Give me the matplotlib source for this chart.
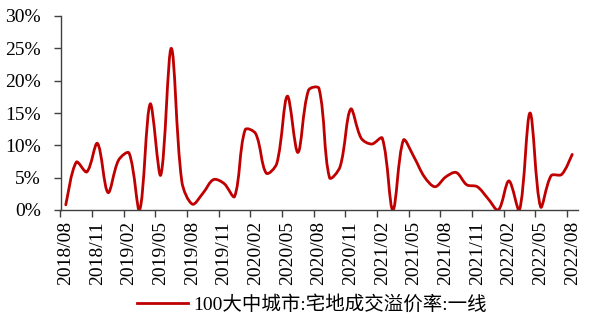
import matplotlib
matplotlib.use('Agg')
import matplotlib.pyplot as plt
from matplotlib.path import Path
from matplotlib.patches import PathPatch
from matplotlib.lines import Line2D
import numpy as np

months = []
for y in range(2018, 2023):
    for m in range(1, 13):
        if (y == 2018 and m < 8) or (y == 2022 and m > 8):
            continue
        months.append(f"{y}/{m:02d}")

values = [0.8, 7.4, 5.9, 10.3, 2.7, 7.7, 8.8, 0.0, 16.4, 5.4, 25.0, 4.4,
          0.9, 2.6, 4.7, 4.1, 2.1, 12.4, 11.8, 5.7, 7.2, 17.6, 8.9, 18.5,
          18.8, 5.0, 6.7, 15.6, 11.1, 10.2, 11.1, 0.0, 10.8, 8.2, 5.1, 3.6,
          5.1, 5.8, 3.9, 3.6, 1.8, 0.0, 4.5, 0.0, 15.0, 0.5, 5.3, 5.5, 8.6]

series_name = "100大中城市:宅地成交溢价率:一线"
yticks = [0, 5, 10, 15, 20, 25, 30]

serif = ['Liberation Serif', 'Noto Sans CJK SC', 'DejaVu Serif']
plt.rcParams['font.family'] = serif
plt.rcParams['font.size'] = 14

W, H = 591, 317
fig = plt.figure(figsize=(W / 100, H / 100), dpi=100)
ax = fig.add_axes([60.5 / W, (H - 210) / H, (577.5 - 60.5) / W, (210 - 16) / H])

n = len(values)
ax.set_xlim(-0.5, n - 0.5)
ax.set_ylim(0, 30)

# Excel-style smoothing: distance-weighted Bezier control points in screen space
color = '#C00000'
x = np.arange(n, dtype=float)
data = np.column_stack([x, np.array(values, dtype=float)])
scr = ax.transData.transform(data)
d = np.hypot(*np.diff(scr, axis=0).T)
t = 1.0 / 3.0
verts = [scr[0]]
codes = [Path.MOVETO]
for i in range(n - 1):
    p0 = scr[max(i - 1, 0)]
    p1 = scr[i]
    p2 = scr[i + 1]
    p3 = scr[min(i + 2, n - 1)]
    dprev = d[i - 1] if i > 0 else d[i]
    dnext = d[i + 1] if i + 1 < n - 1 else d[i]
    w1 = d[i] / (dprev + d[i]) if (dprev + d[i]) > 0 else 0.5
    w2 = d[i] / (d[i] + dnext) if (d[i] + dnext) > 0 else 0.5
    c1 = p1 + (p2 - p0) * t * w1
    c2 = p2 - (p3 - p1) * t * w2
    verts += [c1, c2, p2]
    codes += [Path.CURVE4] * 3
verts = ax.transData.inverted().transform(np.array(verts))
ax.add_patch(PathPatch(Path(verts, codes), facecolor='none', edgecolor=color,
                       lw=2.0, capstyle='round', joinstyle='round'))

ax.set_yticks(yticks)
ax.set_yticklabels([f"{v}%" for v in yticks])

bounds = np.arange(-0.5, n - 0.5, 3)
ax.set_xticks(bounds)
ax.set_xticklabels([''] * len(bounds))
centers = np.arange(0, n, 3)
ax.set_xticks(centers, minor=True)
ax.set_xticklabels([months[i] for i in centers], minor=True, rotation=90)
ax.tick_params(axis='x', which='minor', length=0, pad=8)
ax.tick_params(axis='x', which='major', length=5, width=1, color='#404040', direction='out')
ax.tick_params(axis='y', length=5, width=1, color='#404040', direction='out', pad=9)

for s in ['top', 'right']:
    ax.spines[s].set_visible(False)
for s in ['left', 'bottom']:
    ax.spines[s].set_color('#404040')
    ax.spines[s].set_linewidth(1.0)

handle = Line2D([], [], color=color, lw=2.0)
fig.legend([handle], [series_name], loc='center', bbox_to_anchor=(312 / W, 1 - 304 / H),
           frameon=False, handlelength=2.6, handletextpad=0.3,
           prop={'family': serif, 'size': 14})

fig.savefig('out.png', dpi=100)
